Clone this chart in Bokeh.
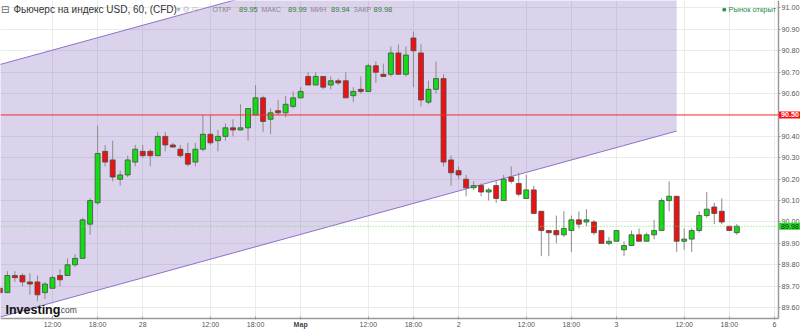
import numpy as np
from bokeh.plotting import figure
from bokeh.models import FixedTicker, Label, Span, ColumnDataSource, BoxAnnotation
from bokeh.embed import file_html
from bokeh.resources import INLINE

# ---------------- data (hourly candles, USD index futures) ----------------
opens = [89.69, 89.67, 89.75, 89.75, 89.72, 89.72, 89.67, 89.69, 89.75, 89.75,
         89.80, 89.83, 89.99, 90.09, 90.33, 90.29, 90.20, 90.22, 90.28, 90.33,
         90.33, 90.31, 90.40, 90.36, 90.34, 90.32, 90.28, 90.34, 90.41, 90.38,
         90.40, 90.44, 90.43, 90.44, 90.50, 90.58, 90.48, 90.52, 90.51, 90.54,
         90.58, 90.68, 90.64, 90.68, 90.64, 90.66, 90.66, 90.59, 90.62, 90.61,
         90.73, 90.69, 90.69, 90.79, 90.69, 90.86, 90.79, 90.56, 90.62, 90.67,
         90.29, 90.24, 90.20, 90.16, 90.17, 90.14, 90.17, 90.10, 90.21, 90.18,
         90.11, 90.15, 90.05, 89.96, 89.96, 89.94, 89.96, 90.01, 90.00, 90.00,
         89.96, 89.90, 89.91, 89.87, 89.89, 89.94, 89.91, 89.94, 89.96, 90.10,
         90.12, 89.91, 89.92, 89.96, 90.03, 90.07, 90.05, 89.98, 89.95]
highs = [89.70, 89.77, 89.77, 89.76, 89.76, 89.75, 89.72, 89.75, 89.78, 89.83,
         89.85, 90.02, 90.11, 90.45, 90.36, 90.38, 90.24, 90.31, 90.36, 90.36,
         90.34, 90.42, 90.42, 90.37, 90.36, 90.37, 90.37, 90.50, 90.50, 90.43,
         90.46, 90.48, 90.55, 90.53, 90.64, 90.59, 90.53, 90.57, 90.59, 90.61,
         90.63, 90.70, 90.70, 90.68, 90.68, 90.67, 90.70, 90.63, 90.68, 90.74,
         90.75, 90.74, 90.82, 90.83, 90.82, 90.89, 90.83, 90.66, 90.75, 90.69,
         90.31, 90.26, 90.22, 90.19, 90.18, 90.16, 90.19, 90.22, 90.26, 90.23,
         90.22, 90.17, 90.05, 89.96, 90.03, 90.05, 90.03, 90.05, 90.06, 90.01,
         89.96, 89.93, 89.96, 89.91, 89.96, 89.97, 89.95, 90.01, 90.11, 90.19,
         90.12, 89.97, 89.97, 90.05, 90.14, 90.09, 90.11, 89.98, 89.99]
lows = [89.66, 89.67, 89.72, 89.70, 89.66, 89.63, 89.64, 89.69, 89.70, 89.75,
        89.79, 89.83, 89.94, 90.08, 90.26, 90.19, 90.17, 90.21, 90.26, 90.30,
        90.26, 90.31, 90.33, 90.35, 90.30, 90.26, 90.26, 90.33, 90.36, 90.33,
        90.38, 90.40, 90.43, 90.38, 90.50, 90.42, 90.41, 90.50, 90.49, 90.53,
        90.58, 90.64, 90.64, 90.62, 90.62, 90.64, 90.58, 90.56, 90.60, 90.61,
        90.65, 90.68, 90.68, 90.69, 90.68, 90.63, 90.54, 90.55, 90.60, 90.26,
        90.17, 90.20, 90.12, 90.15, 90.12, 90.10, 90.09, 90.10, 90.18, 90.12,
        90.11, 90.04, 89.84, 89.84, 89.90, 89.93, 89.86, 89.97, 89.98, 89.94,
        89.90, 89.89, 89.91, 89.84, 89.89, 89.91, 89.91, 89.92, 89.96, 90.05,
        89.86, 89.87, 89.86, 89.95, 90.02, 89.99, 89.99, 89.96, 89.94]
closes = [89.67, 89.75, 89.74, 89.72, 89.71, 89.66, 89.71, 89.74, 89.73, 89.80,
          89.83, 90.01, 90.10, 90.32, 90.28, 90.21, 90.22, 90.29, 90.34, 90.31,
          90.31, 90.40, 90.36, 90.35, 90.31, 90.27, 90.34, 90.41, 90.37, 90.40,
          90.44, 90.43, 90.44, 90.53, 90.58, 90.47, 90.51, 90.51, 90.55, 90.58,
          90.61, 90.64, 90.68, 90.63, 90.66, 90.65, 90.58, 90.61, 90.61, 90.73,
          90.70, 90.68, 90.79, 90.69, 90.78, 90.80, 90.57, 90.62, 90.67, 90.28,
          90.23, 90.22, 90.16, 90.17, 90.14, 90.15, 90.11, 90.20, 90.19, 90.13,
          90.15, 90.04, 89.96, 89.95, 89.94, 89.97, 90.01, 89.99, 90.01, 89.95,
          89.90, 89.91, 89.96, 89.89, 89.94, 89.91, 89.94, 89.96, 90.10, 90.12,
          89.91, 89.92, 89.96, 90.03, 90.06, 90.04, 90.00, 89.96, 89.98]
bar_index = list(range(-7, 92))

time_tick_pos = [0, 6, 12, 21, 27, 33, 42, 48, 54, 63, 69, 75, 84, 90, 96]
time_tick_labels = ["12:00", "18:00", "28", "12:00", "18:00", "Мар", "12:00", "18:00",
                    "2", "12:00", "18:00", "3", "12:00", "18:00", "6"]
price_ticks = [89.6, 89.7, 89.8, 89.9, 90.0, 90.1, 90.2, 90.3, 90.4, 90.5,
               90.6, 90.7, 90.8, 90.9, 91.0]

level_red = 90.50
last_price = 89.98
channel_x = [-8.0, 83.0]
channel_low = [89.546, 90.425]
channel_height = 1.18

title = "Фьючерс на индекс USD, 60, (CFD)"
ohlc_names = ["ОТКР", "МАКС", "МИН", "ЗАКР"]
ohlc_values = ["89.95", "89.99", "89.94", "89.98"]

# ---------------- figure geometry ----------------
W, H = 800, 329
PX_PER_BAR = 7.52
PX_PER_UNIT = 214.0
X0 = -6.915
X1 = X0 + W / PX_PER_BAR
Y1 = 91.035
Y0 = Y1 - H / PX_PER_UNIT

def sx(px):
    return X0 + px / PX_PER_BAR

def sy(py):
    return Y1 - py / PX_PER_UNIT

X_AXIS_AT = sx(778)      # position of the price axis
Y_AXIS_AT = sy(318)      # position of the time axis

p = figure(width=W, height=H, x_range=(X0, X1), y_range=(Y0, Y1),
           toolbar_location=None, output_backend="svg", y_axis_location="right",
           min_border=0, min_border_left=0, min_border_top=0,
           min_border_right=0, min_border_bottom=0)
p.outline_line_color = None
p.background_fill_color = "white"

FONT = "Liberation Sans"

# axes (drawn at fixed positions inside the canvas)
yax = p.yaxis[0]
yax.fixed_location = X_AXIS_AT
yax.bounds = (Y_AXIS_AT, Y1)
yax.ticker = FixedTicker(ticks=price_ticks)
yax.major_label_overrides = {t: f"{t:.2f}" for t in price_ticks}
yax.major_label_text_font = FONT
yax.major_label_text_font_size = "7.2px"
yax.major_label_text_color = "#555555"
yax.major_tick_out = 2
yax.major_tick_in = 0
yax.minor_tick_out = 0
yax.minor_tick_in = 0
yax.major_label_standoff = 1
yax.axis_line_color = "#9a9a9a"
yax.axis_line_width = 1.5
yax.major_tick_line_color = "#9a9a9a"

xax = p.xaxis[0]
xax.fixed_location = Y_AXIS_AT
xax.bounds = (X0, X_AXIS_AT)
xax.ticker = FixedTicker(ticks=time_tick_pos)
ov = {pos: lab for pos, lab in zip(time_tick_pos, time_tick_labels)}
ov[33] = ""
xax.major_label_overrides = ov
xax.major_label_text_font = FONT
xax.major_label_text_font_size = "7px"
xax.major_label_text_color = "#555555"
xax.major_tick_out = 1
xax.major_tick_in = 2
xax.minor_tick_out = 0
xax.minor_tick_in = 0
xax.major_label_standoff = 1
xax.axis_line_color = "#9a9a9a"
xax.axis_line_width = 1.5
xax.major_tick_line_color = "#9a9a9a"

p.xgrid.ticker = FixedTicker(ticks=time_tick_pos)
p.ygrid.ticker = FixedTicker(ticks=price_ticks)
p.xgrid.grid_line_color = "#ebebeb"
p.ygrid.grid_line_color = "#ebebeb"

# keep grid lines out of the axis label strips
p.add_layout(BoxAnnotation(left=X_AXIS_AT, fill_color="white", fill_alpha=1,
                           line_color=None, level="underlay"))
p.add_layout(BoxAnnotation(top=Y_AXIS_AT, fill_color="white", fill_alpha=1,
                           line_color=None, level="underlay"))

# channel
cx = channel_x
lo = channel_low
hi = [v + channel_height for v in channel_low]
p.patch(x=[cx[0], cx[1], cx[1], cx[0]], y=[lo[0], lo[1], hi[1], hi[0]],
        fill_color="#6e50af", fill_alpha=0.25, line_color=None)
p.line(x=cx, y=lo, line_color="#9070c8", line_width=1)
p.line(x=cx, y=hi, line_color="#9070c8", line_width=1)

# horizontal levels
p.add_layout(Span(location=last_price, dimension="width", line_color="#66dd66",
                  line_width=1, line_dash="1 2"))
p.add_layout(Span(location=level_red, dimension="width", line_color="#ff3030", line_width=1))

# candles
o = np.array(opens); h = np.array(highs); l = np.array(lows); c = np.array(closes)
up = c >= o
src = ColumnDataSource(dict(
    x=bar_index, high=h, low=l,
    top=np.maximum(o, c), bottom=np.minimum(o, c),
    color=["#12dd12" if u else "#ee1111" for u in up]))
p.segment(x0="x", y0="low", x1="x", y1="high", source=src, line_color="#8c8c8c", line_width=1)
p.vbar(x="x", width=0.66, top="top", bottom="bottom", source=src,
       fill_color="color", line_color="#4a4a4a", line_width=0.8)

# header
p.add_layout(Label(x=sx(0.5), y=sy(8.5), text="⊟", text_font="DejaVu Sans",
                   text_font_size="10px", text_color="#666666", text_baseline="middle"))
p.add_layout(Label(x=sx(13), y=sy(8.5), text=title, text_font=FONT, text_font_size="10px",
                   text_color="#333333", text_baseline="middle"))
p.add_layout(Label(x=sx(176), y=sy(8.5), text="▾", text_font="DejaVu Sans", text_font_size="8px",
                   text_color="#b0b0b0", text_baseline="middle"))
p.add_layout(Label(x=sx(182), y=sy(8.5), text="⚙", text_font="DejaVu Sans", text_font_size="8px",
                   text_color="#c0c0c0", text_baseline="middle"))
p.add_layout(Label(x=sx(191), y=sy(8.5), text="⊡", text_font="DejaVu Sans", text_font_size="8px",
                   text_color="#c0c0c0", text_baseline="middle"))
name_px = [212, 261, 310, 353]
val_px = [238.5, 287.5, 330.5, 373]
for nm, npx in zip(ohlc_names, name_px):
    p.add_layout(Label(x=sx(npx), y=sy(8.5), text=nm, text_font=FONT, text_font_size="7px",
                       text_color="#888888", text_baseline="middle"))
for vl, vpx in zip(ohlc_values, val_px):
    p.add_layout(Label(x=sx(vpx), y=sy(8.5), text=vl, text_font=FONT, text_font_size="7.5px",
                       text_color="#2f7f3a", text_baseline="middle"))

p.add_layout(Label(x=sx(721.5), y=sy(8.5), text="●", text_font="DejaVu Sans", text_font_size="5px",
                   text_color="#1e9a4a", text_baseline="middle"))
p.add_layout(Label(x=sx(728), y=sy(8.5), text="Рынок открыт", text_font=FONT, text_font_size="7.5px",
                   text_color="#2a8a4a", text_baseline="middle"))

# logo
p.add_layout(Label(x=sx(5), y=sy(309), text="Investing", text_font=FONT, text_font_size="12.5px",
                   text_font_style="bold", text_color="#111111", text_baseline="alphabetic"))
p.add_layout(Label(x=sx(58), y=sy(309), text=".com", text_font=FONT, text_font_size="8.5px",
                   text_color="#444444", text_baseline="alphabetic"))

# month label (bold) under the axis
p.add_layout(Label(x=33, y=sy(320.5), text="Мар", text_align="center", text_baseline="top",
                   text_font=FONT, text_font_size="7px", text_font_style="bold",
                   text_color="#444444"))

# price tags on the axis
p.add_layout(Label(x=sx(778.5), y=level_red, text=f"{level_red:.2f}",
                   text_font=FONT, text_font_size="7.2px", text_font_style="bold",
                   text_color="white", text_baseline="middle",
                   background_fill_color="#ff1010", padding=(2, 1)))
p.add_layout(Label(x=sx(778.5), y=last_price, text=f"{last_price:.2f}",
                   text_font=FONT, text_font_size="7.2px", text_color="#1a1a1a",
                   text_baseline="middle",
                   background_fill_color="#22dd22", padding=(2, 1)))

open("out.html", "w").write(file_html(p, INLINE))
